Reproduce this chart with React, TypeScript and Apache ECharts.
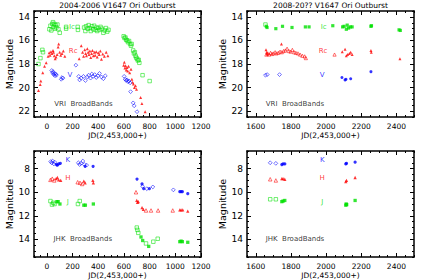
import React, { useEffect, useRef } from "react";
import * as echarts from "echarts";

const FONT = "DejaVu Sans";
const GREEN = "#00e000";
const RED = "#ff0000";
const BLUE = "#0000ff";

// ---------- tick values ----------
const xTicks1 = [0, 200, 400, 600, 800, 1000, 1200];
const xTicks2 = [1600, 1800, 2000, 2200, 2400];
const yTicksVRI = [14, 16, 18, 20, 22];
const yTicksJHK = [8, 10, 12, 14];

// ---------- titles ----------
const titles = ["2004-2006 V1647 Ori Outburst", "2008-20?? V1647 Ori Outburst"];

// ---------- Panel 1: 2004-2006, VRI ----------
const p1I_open = [
  [-65, 18.0], [-50, 17.5], [-35, 16.8], [-30, 17.0],
  [20, 15.05], [28, 14.75], [35, 15.15], [42, 14.6], [48, 14.45], [52, 14.85], [58, 14.6], [62, 15.0], [68, 14.7], [74, 14.9], [82, 14.65], [90, 15.05], [100, 15.35],
  [150, 14.85], [150, 15.0], [240, 14.85], [242, 15.1],
  [290, 14.9], [300, 15.2], [305, 14.8], [318, 15.0], [325, 14.7], [335, 14.95], [342, 15.2], [350, 14.8], [360, 15.05], [368, 14.75], [378, 15.1], [385, 14.9], [392, 15.2], [400, 14.95], [410, 15.1], [418, 14.85], [428, 15.0], [440, 15.35], [450, 15.15], [460, 14.95], [470, 15.25], [480, 15.1],
  [598, 15.65], [605, 15.8], [612, 15.75], [618, 15.95], [625, 16.0], [632, 16.15], [640, 16.05], [648, 16.3], [655, 16.45], [660, 16.3],
  [672, 16.85], [678, 17.1], [685, 17.0], [690, 17.3], [695, 17.45], [702, 17.55], [708, 17.7], [715, 17.65], [720, 17.9],
  [745, 18.95], [800, 19.45],
];
const p1R_filled = [
  [-65, 20.25], [-52, 19.75], [-47, 19.45], [-32, 18.75], [-18, 18.2], [-5, 17.9],
  [10, 17.35], [18, 17.05], [25, 17.25], [32, 16.95], [40, 17.1], [48, 16.85], [52, 17.0], [58, 17.3], [65, 17.55], [72, 17.4], [80, 17.2], [88, 16.55], [92, 16.3], [100, 17.0], [108, 17.25], [118, 17.1], [128, 16.9], [140, 17.35],
  [252, 17.55], [268, 16.45], [278, 17.0], [286, 17.35], [295, 16.8], [302, 17.1], [308, 17.3], [315, 16.7], [322, 17.0], [328, 17.2], [335, 16.9], [342, 17.45], [348, 17.1], [355, 16.85], [362, 17.3], [370, 17.0], [376, 17.25], [384, 16.95], [392, 17.4], [400, 17.05], [408, 17.2], [416, 16.9], [425, 17.6], [435, 17.15], [448, 17.35], [462, 17.0], [475, 17.3],
  [598, 18.1], [603, 17.85], [608, 18.35], [613, 18.15], [618, 18.5], [624, 18.3], [630, 18.6], [636, 18.2], [645, 18.75], [655, 18.45],
  [662, 19.3], [668, 19.55], [674, 19.7], [682, 20.0], [690, 19.85], [698, 20.15],
  [730, 20.85], [740, 21.35], [765, 22.05],
];
const p1V_open = [
  [38, 18.55], [44, 18.75], [48, 18.65], [54, 18.9], [58, 18.8], [64, 19.0], [70, 18.85], [75, 18.95],
  [112, 19.3], [118, 19.15], [125, 19.2],
  [226, 18.1],
  [248, 19.05], [255, 19.35], [268, 19.2], [285, 19.05], [300, 19.4], [315, 19.1], [325, 18.95], [340, 19.2], [350, 18.85], [360, 19.05], [372, 18.9], [385, 19.15], [398, 19.0], [410, 18.8], [425, 19.1], [440, 19.25], [455, 19.0],
  [602, 19.05], [610, 19.3], [618, 19.4], [625, 19.35], [632, 19.5], [640, 19.45], [648, 19.6], [652, 20.35],
  [672, 21.3], [680, 21.55], [702, 22.05],
];

// ---------- Panel 2: 2008-20??, VRI ----------
const p2I_open = [[1655, 14.65]];
const p2I_filled = [
  [1660, 14.8], [1664, 14.9], [1714, 15.0], [1752, 14.8], [1806, 14.9], [1882, 14.85], [1903, 14.85], [2038, 14.75],
  [2094, 14.85], [2102, 14.8], [2115, 15.05], [2120, 14.7], [2128, 14.95], [2138, 14.85], [2148, 14.85],
  [2255, 14.8], [2258, 14.75], [2415, 15.1], [2422, 15.15],
];
const p2R_open = [
  [1660, 17.2], [1668, 17.1], [1676, 17.2], [1684, 17.05], [1692, 17.15], [1700, 17.1], [1710, 17.0], [1718, 17.1], [1728, 17.05], [1738, 16.95],
  [1748, 17.0], [1758, 16.9], [1768, 16.85], [1778, 16.7], [1788, 16.9], [1798, 16.95], [1808, 16.8], [1818, 17.0], [1828, 17.05], [1840, 17.1],
  [1852, 17.2], [1865, 17.3], [1878, 17.35], [1885, 17.5], [2048, 17.2],
];
const p2R_filled = [
  [1658, 16.8], [1662, 17.0], [1666, 17.15], [1746, 16.3], [2092, 16.95], [2108, 16.75], [2115, 17.3], [2122, 17.2], [2132, 17.1], [2140, 17.0], [2148, 17.2],
  [2255, 16.85], [2257, 17.0], [2420, 17.55],
];
const p2V_open = [[1655, 18.95], [1665, 18.9], [1735, 18.9]];
const p2V_filled = [[2090, 19.15], [2108, 19.35], [2113, 19.3], [2140, 19.25], [2255, 18.65]];

// ---------- Panel 3: 2004-2006, JHK ----------
const p3K_open = [
  [30, 7.4], [38, 7.5], [45, 7.35], [55, 7.6], [62, 7.45], [245, 7.5], [255, 7.65], [265, 7.55], [280, 7.35], [292, 7.65], [310, 7.7],
  [745, 9.5], [778, 9.7], [825, 9.55], [985, 9.8],
];
const p3K_filled = [
  [75, 7.65], [82, 7.7], [92, 7.6], [105, 7.55], [298, 7.8], [360, 7.8],
  [702, 8.88], [741, 9.3], [754, 9.7], [798, 9.7], [1035, 9.95], [1045, 9.95], [1055, 9.95], [1097, 10.12],
];
const p3H_open = [
  [28, 8.95], [42, 8.85], [58, 9.0], [240, 9.15], [258, 9.2], [275, 9.3],
  [694, 10.0], [772, 11.55], [811, 11.55], [866, 11.55], [980, 11.55],
];
const p3H_filled = [
  [72, 8.85], [82, 8.75], [92, 8.95], [108, 9.0], [288, 9.05], [298, 9.2], [358, 9.0], [362, 9.2],
  [700, 10.7], [706, 10.85], [712, 10.8], [741, 11.3], [751, 11.45], [1035, 11.5], [1045, 11.5], [1058, 11.5], [1097, 11.6],
];
const p3J_open = [
  [28, 10.75], [40, 11.05], [50, 10.9], [60, 11.0], [242, 11.0], [256, 10.75],
  [700, 13.0], [705, 13.2], [712, 13.45], [772, 14.35], [829, 14.2], [863, 13.95],
];
const p3J_filled = [
  [78, 10.8], [88, 10.8], [102, 11.0], [288, 11.1], [300, 11.1], [362, 11.0],
  [733, 13.8], [746, 14.1], [793, 14.6], [1035, 14.2], [1045, 14.15], [1055, 14.2], [1097, 14.25],
];

// ---------- Panel 4: 2008-20??, JHK ----------
const p4K_open = [[1682, 7.5], [1714, 7.55]];
const p4K_filled = [[1748, 7.65], [1755, 7.6], [1765, 7.6], [2112, 7.6], [2116, 7.55], [2165, 7.45]];
const p4H_open = [[1682, 8.9], [1714, 9.0]];
const p4H_filled = [[1748, 8.85], [1755, 8.85], [1765, 8.9], [2112, 9.1], [2116, 9.0], [2165, 8.75]];
const p4J_open = [[1682, 10.6], [1714, 10.6]];
const p4J_filled = [[1748, 10.8], [1755, 10.75], [1765, 10.7], [2112, 11.1], [2114, 11.0], [2117, 11.05], [2165, 10.7]];

// ---------- in-panel annotations: [text, jd, magnitude] ----------
const p1Bands = [["Ic", 195, 14.9], ["Rc", 205, 16.9], ["V", 180, 18.9]];
const p2Bands = [["Ic", 1986, 14.9], ["Rc", 1983, 16.9], ["V", 1978, 18.9]];
const p3Bands = [["K", 163, 7.28], ["H", 163, 8.78], ["J", 162, 10.85]];
const p4Bands = [["K", 1978, 7.28], ["H", 1978, 8.78], ["J", 1978, 10.85]];
const panelNotes = [
  ["VRI  BroadBands", 285, 21.4],
  ["VRI  BroadBands", 1823, 21.4],
  ["JHK  BroadBands", 280, 13.95],
  ["JHK  BroadBands", 1823, 13.95],
];

const GW = 167;
const GH = 106;
const panels = [
  { left: 34, top: 11, xr: [-100, 1200], xt: xTicks1, yr: [13.5, 22.5], yt: yTicksVRI },
  { left: 247, top: 11, xr: [1550, 2500], xt: xTicks2, yr: [13.5, 22.5], yt: yTicksVRI },
  { left: 34, top: 151, xr: [-100, 1200], xt: xTicks1, yr: [6.5, 15.5], yt: yTicksJHK },
  { left: 247, top: 151, xr: [1550, 2500], xt: xTicks2, yr: [6.5, 15.5], yt: yTicksJHK },
];

function steps(a: number, b: number, s: number) {
  const out: number[] = [];
  for (let v = a; v <= b + 1e-9; v += s) out.push(Math.round(v * 1000) / 1000);
  return out;
}

const BOX = { color: "#000", width: 1.5 };

function axisDef(g: number, p: any, dim: "x" | "y", pos: string, major: boolean) {
  const r = dim === "x" ? p.xr : p.yr;
  const ticks = dim === "x" ? p.xt : p.yt;
  const minor = dim === "x" ? steps(r[0], r[1], 50) : steps(r[0], r[1], 0.5);
  const main = major && (pos === "bottom" || pos === "left");
  const ax: any = {
    type: "value",
    gridIndex: g,
    min: r[0],
    max: r[1],
    position: pos,
    inverse: dim === "y",
    splitLine: { show: false },
    axisLine: { show: major, onZero: false, lineStyle: BOX },
    axisTick: {
      show: true,
      inside: true,
      length: major ? 4 : 2,
      customValues: major ? ticks : minor,
      lineStyle: { color: "#000", width: 1 },
    },
    axisLabel: main
      ? {
          show: true,
          customValues: ticks,
          formatter: (v: number) => String(v),
          color: "#000",
          fontFamily: FONT,
          fontSize: dim === "x" ? 7.5 : 9,
          margin: dim === "x" ? 5 : 4,
        }
      : { show: false },
    z: 5,
  };
  if (main && dim === "x") {
    ax.name = "JD(2,453,000+)";
    ax.nameLocation = "middle";
    ax.nameGap = 14;
    ax.nameTextStyle = { color: "#000", fontFamily: FONT, fontSize: 7.5 };
  }
  if (main && dim === "y") {
    ax.name = "Magnitude";
    ax.nameLocation = "middle";
    ax.nameGap = 19;
    ax.nameRotate = 90;
    ax.nameTextStyle = { color: "#000", fontFamily: FONT, fontSize: 9.5 };
  }
  return ax;
}

const openStyle = (c: string) => ({ color: "rgba(0,0,0,0)", borderColor: c, borderWidth: 0.7 });
const fillStyle = (c: string) => ({ color: c, borderWidth: 0 });

function sc(g: number, data: number[][], symbol: string, size: number, itemStyle: any) {
  return { type: "scatter", xAxisIndex: 4 * g, yAxisIndex: 4 * g, data, symbol, symbolSize: size, itemStyle, silent: true, z: 3 };
}

function textSeries(g: number, items: any[], colors: string[], fontSize: number) {
  return {
    type: "scatter",
    xAxisIndex: 4 * g,
    yAxisIndex: 4 * g,
    symbolSize: 1,
    silent: true,
    itemStyle: { color: "rgba(0,0,0,0)" },
    data: items.map((it, i) => ({
      name: it[0],
      value: [it[1], it[2]],
      label: { color: colors[i % colors.length] },
    })),
    label: {
      show: true,
      position: "inside",
      formatter: "{b}",
      align: "center",
      verticalAlign: "middle",
      fontFamily: FONT,
      fontSize,
    },
    z: 4,
  };
}

export default function App() {
  const ref = useRef<HTMLDivElement>(null);
  useEffect(() => {
    if (!ref.current) return;
    const chart = echarts.init(ref.current, null, { renderer: "svg" });
    const grid = panels.map((p) => ({ left: p.left, top: p.top, width: GW, height: GH, containLabel: false }));
    const xAxis: any[] = [];
    const yAxis: any[] = [];
    panels.forEach((p, g) => {
      xAxis.push(axisDef(g, p, "x", "bottom", true));
      xAxis.push(axisDef(g, p, "x", "bottom", false));
      xAxis.push(axisDef(g, p, "x", "top", true));
      xAxis.push(axisDef(g, p, "x", "top", false));
      yAxis.push(axisDef(g, p, "y", "left", true));
      yAxis.push(axisDef(g, p, "y", "left", false));
      yAxis.push(axisDef(g, p, "y", "right", true));
      yAxis.push(axisDef(g, p, "y", "right", false));
    });
    const series: any[] = [
      // panel 1
      sc(0, p1I_open, "rect", 3.5, openStyle(GREEN)),
      sc(0, p1R_filled, "triangle", 3, fillStyle(RED)),
      sc(0, p1V_open, "diamond", 3.8, openStyle(BLUE)),
      // panel 2
      sc(1, p2I_open, "rect", 3.5, openStyle(GREEN)),
      sc(1, p2I_filled, "rect", 3.2, fillStyle(GREEN)),
      sc(1, p2R_open, "triangle", 3.2, openStyle(RED)),
      sc(1, p2R_filled, "triangle", 3, fillStyle(RED)),
      sc(1, p2V_open, "diamond", 3.8, openStyle(BLUE)),
      sc(1, p2V_filled, "circle", 3, fillStyle(BLUE)),
      // panel 3
      sc(2, p3K_open, "diamond", 3.8, openStyle(BLUE)),
      sc(2, p3K_filled, "circle", 3.2, fillStyle(BLUE)),
      sc(2, p3H_open, "triangle", 3.5, openStyle(RED)),
      sc(2, p3H_filled, "triangle", 3.3, fillStyle(RED)),
      sc(2, p3J_open, "rect", 3.5, openStyle(GREEN)),
      sc(2, p3J_filled, "rect", 3.3, fillStyle(GREEN)),
      // panel 4
      sc(3, p4K_open, "diamond", 3.8, openStyle(BLUE)),
      sc(3, p4K_filled, "circle", 3.2, fillStyle(BLUE)),
      sc(3, p4H_open, "triangle", 3.5, openStyle(RED)),
      sc(3, p4H_filled, "triangle", 3.3, fillStyle(RED)),
      sc(3, p4J_open, "rect", 3.5, openStyle(GREEN)),
      sc(3, p4J_filled, "rect", 3.3, fillStyle(GREEN)),
      // annotations
      textSeries(0, p1Bands, [GREEN, RED, BLUE], 7),
      textSeries(1, p2Bands, [GREEN, RED, BLUE], 7),
      textSeries(2, p3Bands, [BLUE, RED, GREEN], 7),
      textSeries(3, p4Bands, [BLUE, RED, GREEN], 7),
      ...panelNotes.map((n, g) => textSeries(g, [n], ["#000"], 7)),
    ];
    const graphic = titles.map((t, i) => ({
      type: "text",
      x: panels[i].left + GW / 2,
      y: 5.5,
      style: {
        text: t,
        fill: "#000",
        fontFamily: FONT,
        fontSize: 7.5,
        textAlign: "center",
        textVerticalAlign: "middle",
      },
    }));
    chart.setOption({
      animation: false,
      backgroundColor: "#fff",
      grid,
      xAxis,
      yAxis,
      series,
      graphic,
    });
    return () => chart.dispose();
  }, []);
  return (
    <div
      ref={ref}
      style={{ position: "fixed", left: 0, top: 0, width: 425, height: 280, background: "#fff" }}
    />
  );
}
